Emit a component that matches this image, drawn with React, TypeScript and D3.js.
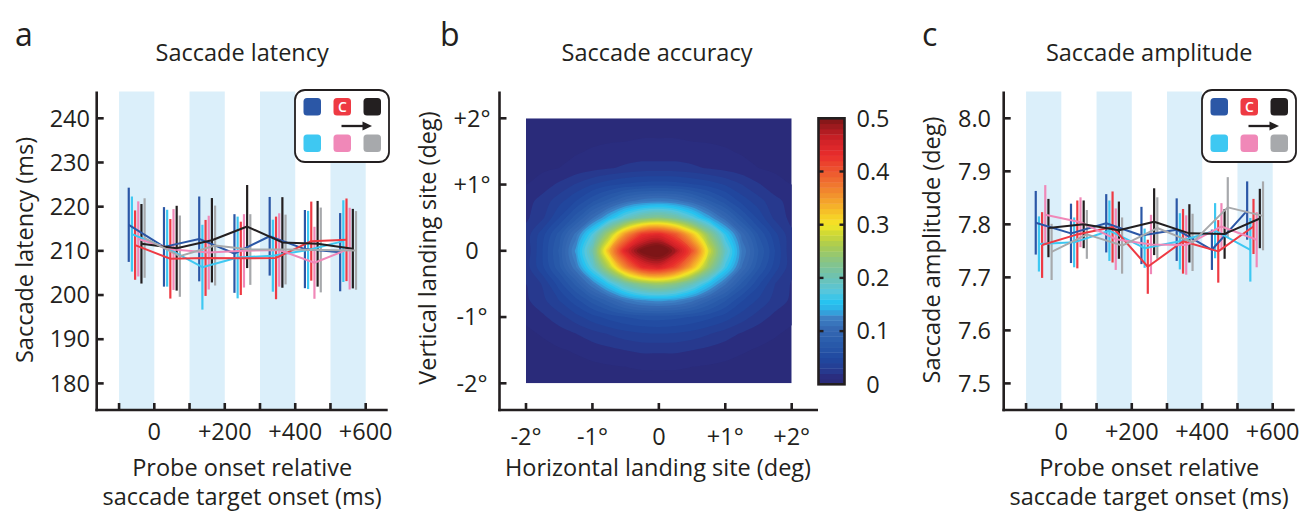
import React from 'react';
import * as d3 from 'd3';

const FONT = "'Open Sans', 'DejaVu Sans', sans-serif";
const INK = '#231f20';
const BAND = '#dbeffa';

// ---------- data: panels a & c ----------
const groupTimes = [-50, 50, 150, 250, 350, 450, 550];
const seriesNames = ['darkBlue', 'lightBlue', 'red', 'pink', 'black', 'gray'];
const seriesColors = ['#2b57a6', '#3ec8f2', '#ee3a43', '#f088b8', '#231f20', '#a7a9ac'];
const seriesOffsetsMs = [-22.5, -13.5, -4.5, 4.5, 13.5, 22.5];
const bandStarts = [-100, 100, 300, 500];
const bandWidthMs = 100;
const timeTicks = [-100, 0, 100, 200, 300, 400, 500, 600];
const timeLabels = [0, 200, 400, 600];

const latencyTicks = [180, 190, 200, 210, 220, 230, 240];
const latencyMeans = [
  [215.9, 210.9, 212.7, 209.4, 213.3, 210.4, 209.7],
  [213.8, 210.6, 206.3, 208.5, 208.9, 210.2, 212.2],
  [211.3, 208.2, 208.4, 208.3, 208.4, 212.2, 212.5],
  [212.7, 210.3, 209.6, 210.0, 210.2, 207.3, 210.5],
  [211.6, 210.6, 212.4, 215.5, 211.9, 211.6, 210.5],
  [212.9, 208.8, 211.2, 210.3, 210.3, 210.2, 210.1],
];
const latencyErrs = [
  [8.4, 9.0, 9.6, 8.9, 8.9, 8.85, 8.85],
  [8.5, 8.7, 9.6, 9.25, 8.15, 8.85, 9.25],
  [7.85, 9.0, 8.6, 8.3, 9.35, 8.95, 9.35],
  [8.5, 9.15, 8.35, 8.3, 8.3, 8.15, 9.25],
  [9.0, 9.6, 9.55, 9.4, 10.25, 9.7, 9.0],
  [9.0, 9.2, 9.05, 8.0, 7.9, 9.6, 8.9],
];

const amplitudeTicks = [7.5, 7.6, 7.7, 7.8, 7.9, 8.0];
const amplitudeMeans = [
  [7.803, 7.783, 7.802, 7.779, 7.790, 7.752, 7.826],
  [7.763, 7.766, 7.788, 7.755, 7.768, 7.788, 7.752],
  [7.761, 7.781, 7.795, 7.720, 7.768, 7.749, 7.796],
  [7.818, 7.804, 7.772, 7.762, 7.761, 7.796, 7.771],
  [7.793, 7.800, 7.789, 7.805, 7.783, 7.782, 7.811],
  [7.748, 7.781, 7.760, 7.793, 7.766, 7.832, 7.816],
];
const amplitudeErrs = [
  [0.060, 0.056, 0.055, 0.054, 0.059, 0.038, 0.055],
  [0.052, 0.047, 0.057, 0.037, 0.053, 0.052, 0.060],
  [0.062, 0.064, 0.067, 0.051, 0.061, 0.059, 0.052],
  [0.056, 0.047, 0.058, 0.056, 0.056, 0.044, 0.052],
  [0.055, 0.045, 0.054, 0.063, 0.055, 0.047, 0.056],
  [0.053, 0.046, 0.053, 0.058, 0.054, 0.057, 0.065],
];

// ---------- data: panel b ----------
const degTicks = [-2, -1, 0, 1, 2];
const gridX = [-2, -1.75, -1.5, -1.25, -1, -0.75, -0.5, -0.25, 0, 0.25, 0.5, 0.75, 1, 1.25, 1.5, 1.75, 2];
const gridY = [2, 1.75, 1.5, 1.25, 1, 0.75, 0.5, 0.25, 0, -0.25, -0.5, -0.75, -1, -1.25, -1.5, -1.75, -2];
const density = [
  [0.003, 0.003, 0.004, 0.004, 0.005, 0.005, 0.005, 0.006, 0.006, 0.006, 0.005, 0.005, 0.005, 0.004, 0.004, 0.003, 0.003],
  [0.004, 0.004, 0.005, 0.006, 0.007, 0.008, 0.008, 0.009, 0.009, 0.009, 0.008, 0.008, 0.007, 0.006, 0.005, 0.004, 0.004],
  [0.005, 0.006, 0.007, 0.009, 0.011, 0.012, 0.013, 0.014, 0.014, 0.014, 0.013, 0.012, 0.011, 0.009, 0.007, 0.006, 0.005],
  [0.006, 0.008, 0.010, 0.013, 0.016, 0.019, 0.022, 0.024, 0.024, 0.024, 0.022, 0.019, 0.016, 0.013, 0.010, 0.008, 0.006],
  [0.010, 0.015, 0.022, 0.031, 0.040, 0.047, 0.052, 0.055, 0.056, 0.055, 0.051, 0.046, 0.039, 0.030, 0.021, 0.014, 0.010],
  [0.016, 0.024, 0.036, 0.050, 0.068, 0.085, 0.105, 0.117, 0.121, 0.116, 0.102, 0.082, 0.064, 0.046, 0.034, 0.023, 0.016],
  [0.018, 0.028, 0.050, 0.075, 0.108, 0.146, 0.186, 0.216, 0.228, 0.212, 0.178, 0.138, 0.102, 0.071, 0.047, 0.027, 0.017],
  [0.024, 0.046, 0.074, 0.114, 0.172, 0.258, 0.355, 0.425, 0.440, 0.400, 0.325, 0.238, 0.160, 0.105, 0.069, 0.043, 0.022],
  [0.022, 0.050, 0.082, 0.133, 0.205, 0.335, 0.450, 0.510, 0.530, 0.480, 0.405, 0.285, 0.190, 0.120, 0.080, 0.050, 0.021],
  [0.025, 0.048, 0.077, 0.118, 0.178, 0.266, 0.366, 0.435, 0.450, 0.410, 0.335, 0.246, 0.166, 0.109, 0.072, 0.045, 0.023],
  [0.020, 0.031, 0.055, 0.083, 0.119, 0.160, 0.204, 0.236, 0.248, 0.232, 0.196, 0.152, 0.112, 0.078, 0.052, 0.030, 0.019],
  [0.018, 0.027, 0.040, 0.056, 0.075, 0.094, 0.116, 0.129, 0.133, 0.128, 0.113, 0.091, 0.071, 0.051, 0.038, 0.026, 0.018],
  [0.012, 0.018, 0.026, 0.036, 0.046, 0.054, 0.060, 0.064, 0.065, 0.063, 0.059, 0.053, 0.045, 0.035, 0.025, 0.017, 0.012],
  [0.008, 0.011, 0.015, 0.020, 0.026, 0.031, 0.036, 0.039, 0.040, 0.039, 0.036, 0.031, 0.025, 0.019, 0.014, 0.011, 0.008],
  [0.006, 0.007, 0.009, 0.011, 0.014, 0.017, 0.020, 0.022, 0.022, 0.022, 0.020, 0.017, 0.014, 0.011, 0.009, 0.007, 0.006],
  [0.004, 0.005, 0.006, 0.007, 0.008, 0.009, 0.010, 0.011, 0.011, 0.011, 0.010, 0.009, 0.008, 0.007, 0.006, 0.005, 0.004],
  [0.003, 0.003, 0.004, 0.004, 0.005, 0.005, 0.006, 0.006, 0.006, 0.006, 0.006, 0.005, 0.005, 0.004, 0.004, 0.003, 0.003],
];
const colorbarTicks = [0, 0.1, 0.2, 0.3, 0.4, 0.5];
const colormapStops = [0, 0.018, 0.026, 0.05, 0.08, 0.105, 0.125, 0.14, 0.155, 0.175, 0.2, 0.23, 0.26, 0.285, 0.3, 0.32, 0.35, 0.38, 0.41, 0.43, 0.46, 0.48, 0.5];
const colormapColors = ['#2a2a78', '#2a2e80', '#273a90', '#2049a0', '#2a5cab', '#3569b3', '#3d80c4', '#2fb0e6', '#27c3f0', '#56c6dc', '#6cc2b4', '#86c488', '#a9cb52', '#d2da33', '#f4e726', '#f7c827', '#f39a2c', '#ef7030', '#ec4a2e', '#e92d2c', '#d02127', '#a81b20', '#7d1517'];

const cmap = d3.scaleLinear<string>().domain(colormapStops).range(colormapColors).interpolate(d3.interpolateRgb).clamp(true);

const AXIS_Y = 410;
const PLOT_TOP = 91.5;
const TICK = 7;
const AXW = 2.6;

function Legend({ dx }: { dx: number }) {
  const x0 = 295 + dx;
  const cols = [x0 + 8.5, x0 + 38.5, x0 + 68.5];
  const top = [seriesColors[0], seriesColors[2], seriesColors[4]];
  const bot = [seriesColors[1], seriesColors[3], seriesColors[5]];
  return (
    <g>
      <rect x={x0} y={90} width={94} height={72} rx={10} fill="#fff" stroke={INK} strokeWidth={1.8} />
      {cols.map((cx, i) => (
        <rect key={'t' + i} x={cx} y={98} width={17.5} height={17.5} rx={3.5} fill={top[i]} />
      ))}
      {cols.map((cx, i) => (
        <rect key={'b' + i} x={cx} y={134.5} width={17.5} height={17.5} rx={3.5} fill={bot[i]} />
      ))}
      <text x={cols[1] + 8.9} y={112} fill="#fff" fontFamily={FONT} fontSize={14} textAnchor="middle" fontWeight={600}>C</text>
      <line x1={x0 + 46.5} x2={x0 + 70} y1={126} y2={126} stroke={INK} strokeWidth={2.3} />
      <path d={`M${x0 + 77},126 L${x0 + 67.5},121.5 L${x0 + 67.5},130.5 Z`} fill={INK} />
    </g>
  );
}

function LinePanel(props: {
  dx: number; yDomain: [number, number]; yTicks: number[]; fmt: (v: number) => string;
  means: number[][]; errs: number[][]; title: string; yLabel: string; letter: string; labelRight: number;
}) {
  const { dx, yDomain, yTicks, fmt, means, errs, title, yLabel, letter, labelRight } = props;
  const x = d3.scaleLinear().domain([0, 600]).range([154.3 + dx, 365.7 + dx]);
  const y = d3.scaleLinear().domain(yDomain).range([383.4, 118.3]);
  const axisLeft = 96.7 + dx;
  const axisRight = 387.7 + dx;
  const cx = (axisLeft + axisRight) / 2;
  const line = d3.line<[number, number]>().x((d) => d[0]).y((d) => d[1]);
  return (
    <g>
      <text x={15 + dx} y={46} fontFamily={FONT} fontSize={32} fill={INK}>{letter}</text>
      <text x={cx} y={61} fontFamily={FONT} fontSize={23.5} fill={INK} textAnchor="middle">{title}</text>
      {bandStarts.map((b) => (
        <rect key={b} x={x(b)} y={PLOT_TOP} width={x(b + bandWidthMs) - x(b)} height={AXIS_Y - PLOT_TOP} fill={BAND} />
      ))}
      {means.map((ser, si) => (
        <g key={seriesNames[si]}>
          {ser.map((m, gi) => {
            const px = x(groupTimes[gi] + seriesOffsetsMs[si]);
            return (
              <line key={gi} x1={px} x2={px} y1={y(m - errs[si][gi])} y2={y(m + errs[si][gi])}
                stroke={seriesColors[si]} strokeWidth={2.2} />
            );
          })}
        </g>
      ))}
      {means.map((ser, si) => (
        <path key={'l' + si}
          d={line(ser.map((m, gi) => [x(groupTimes[gi] + seriesOffsetsMs[si]), y(m)]) as [number, number][]) || ''}
          fill="none" stroke={seriesColors[si]} strokeWidth={2} strokeLinejoin="round" />
      ))}
      <Legend dx={dx} />
      <line x1={axisLeft} x2={axisLeft} y1={PLOT_TOP} y2={AXIS_Y + AXW / 2} stroke={INK} strokeWidth={AXW} />
      <line x1={axisLeft - AXW / 2} x2={axisRight} y1={AXIS_Y} y2={AXIS_Y} stroke={INK} strokeWidth={AXW} />
      {yTicks.map((t) => (
        <g key={t}>
          <line x1={axisLeft} x2={axisLeft + TICK} y1={y(t)} y2={y(t)} stroke={INK} strokeWidth={AXW} />
          <text x={labelRight + dx} y={y(t)} dy="0.35em" textAnchor="end" fontFamily={FONT} fontSize={23.5} fill={INK}>{fmt(t)}</text>
        </g>
      ))}
      {timeTicks.map((t) => (
        <line key={t} x1={x(t)} x2={x(t)} y1={AXIS_Y} y2={AXIS_Y - TICK} stroke={INK} strokeWidth={AXW} />
      ))}
      {timeLabels.map((t) => (
        <text key={t} x={x(t)} y={440} textAnchor="middle" fontFamily={FONT} fontSize={23.5} fill={INK}>
          {t === 0 ? '0' : '+' + t}
        </text>
      ))}
      <text x={cx} y={476} textAnchor="middle" fontFamily={FONT} fontSize={23.5} fill={INK}>Probe onset relative</text>
      <text x={cx} y={505} textAnchor="middle" fontFamily={FONT} fontSize={23.5} fill={INK}>saccade target onset (ms)</text>
      <text transform={`translate(${33 + dx},250) rotate(-90)`} textAnchor="middle" fontFamily={FONT} fontSize={23.5} fill={INK}>{yLabel}</text>
    </g>
  );
}

function degLabel(v: number) {
  if (v === 0) return '0';
  return (v > 0 ? '+' : '-') + Math.abs(v) + '°';
}

function HeatPanel() {
  const X = d3.scaleLinear().domain([-2, 2]).range([526, 791.7]);
  const Y = d3.scaleLinear().domain([-2, 2]).range([383.3, 118.3]);
  const nx = gridX.length;
  const ny = gridY.length;
  const levels = d3.range(0.01, 0.5001, 0.01);
  const polys = d3.contours().size([nx, ny]).thresholds(levels)(density.flat());
  const gx = d3.scaleLinear().domain([0.5, nx - 0.5]).range([X(gridX[0]), X(gridX[nx - 1])]);
  const gy = d3.scaleLinear().domain([0.5, ny - 0.5]).range([Y(gridY[0]), Y(gridY[ny - 1])]);
  const ring = d3.line<number[]>().x((p) => gx(p[0])).y((p) => gy(p[1])).curve(d3.curveCatmullRomClosed.alpha(0.5));
  const cb = d3.scaleLinear().domain([0, 0.5]).range([384.3, 118.3]);
  const cbLeft = 818.5, cbRight = 844.5;
  const axisLeft = 499.5, axisRight = 818;
  return (
    <g>
      <text x={440} y={46} fontFamily={FONT} fontSize={32} fill={INK}>b</text>
      <text x={657} y={61} fontFamily={FONT} fontSize={23.5} fill={INK} textAnchor="middle">Saccade accuracy</text>
      <defs>
        <clipPath id="heatclip">
          <rect x={X(-2)} y={Y(2)} width={X(2) - X(-2)} height={Y(-2) - Y(2)} />
        </clipPath>
      </defs>
      <g clipPath="url(#heatclip)">
        <rect x={X(-2)} y={Y(2)} width={X(2) - X(-2)} height={Y(-2) - Y(2)} fill={cmap(0.004)} />
        {polys.map((p) => (
          <path key={p.value}
            d={p.coordinates.map((poly) => poly.map((r) => ring(r.slice(0, -1)) || '').join('')).join('')}
            fill={cmap(p.value + 0.005)} fillRule="evenodd" />
        ))}
      </g>
      {d3.range(0, 0.5, 0.01).map((l) => (
        <rect key={l} x={cbLeft} y={cb(l + 0.01)} width={cbRight - cbLeft} height={cb(l) - cb(l + 0.01) + 0.4} fill={cmap(l + 0.005)} />
      ))}
      <rect x={cbLeft} y={cb(0.5)} width={cbRight - cbLeft} height={cb(0) - cb(0.5)} fill="none" stroke={INK} strokeWidth={2.6} />
      {colorbarTicks.map((t) => (
        <g key={t}>
          {t > 0 && t < 0.5 && (
            <>
              <line x1={cbLeft} x2={cbLeft + 5} y1={cb(t)} y2={cb(t)} stroke={INK} strokeWidth={2.4} />
              <line x1={cbRight - 5} x2={cbRight} y1={cb(t)} y2={cb(t)} stroke={INK} strokeWidth={2.4} />
            </>
          )}
          <text x={873} y={cb(t)} dy="0.35em" textAnchor="middle" fontFamily={FONT} fontSize={23.5} fill={INK}>
            {t === 0 ? '0' : d3.format('.1f')(t)}
          </text>
        </g>
      ))}
      <line x1={axisLeft} x2={axisLeft} y1={PLOT_TOP} y2={AXIS_Y + AXW / 2} stroke={INK} strokeWidth={AXW} />
      <line x1={axisLeft - AXW / 2} x2={axisRight} y1={AXIS_Y} y2={AXIS_Y} stroke={INK} strokeWidth={AXW} />
      {degTicks.map((t) => (
        <g key={'y' + t}>
          <line x1={axisLeft} x2={axisLeft + TICK} y1={Y(t)} y2={Y(t)} stroke={INK} strokeWidth={AXW} />
          <text x={472} y={Y(t)} dy="0.35em" textAnchor="middle" fontFamily={FONT} fontSize={23.5} fill={INK}>{degLabel(t)}</text>
        </g>
      ))}
      {degTicks.map((t) => (
        <g key={'x' + t}>
          <line x1={X(t)} x2={X(t)} y1={AXIS_Y} y2={AXIS_Y - TICK} stroke={INK} strokeWidth={AXW} />
          <text x={X(t)} y={445} textAnchor="middle" fontFamily={FONT} fontSize={23.5} fill={INK}>{degLabel(t)}</text>
        </g>
      ))}
      <text x={658} y={476} textAnchor="middle" fontFamily={FONT} fontSize={23.5} fill={INK}>Horizontal landing site (deg)</text>
      <text transform="translate(436,248) rotate(-90)" textAnchor="middle" fontFamily={FONT} fontSize={23.5} fill={INK}>Vertical landing site (deg)</text>
    </g>
  );
}

export default function App() {
  return (
    <svg width={1303} height={512} style={{ position: 'absolute', left: 0, top: 0, background: '#fff' }}>
      <rect x={0} y={0} width={1303} height={512} fill="#fff" />
      <LinePanel dx={0} yDomain={[180, 240]} yTicks={latencyTicks} fmt={(v) => String(v)}
        means={latencyMeans} errs={latencyErrs} title="Saccade latency" yLabel="Saccade latency (ms)" letter="a" labelRight={90} />
      <HeatPanel />
      <LinePanel dx={907} yDomain={[7.5, 8.0]} yTicks={amplitudeTicks} fmt={d3.format('.1f')}
        means={amplitudeMeans} errs={amplitudeErrs} title="Saccade amplitude" yLabel="Saccade amplitude (deg)" letter="c" labelRight={84} />
    </svg>
  );
}
